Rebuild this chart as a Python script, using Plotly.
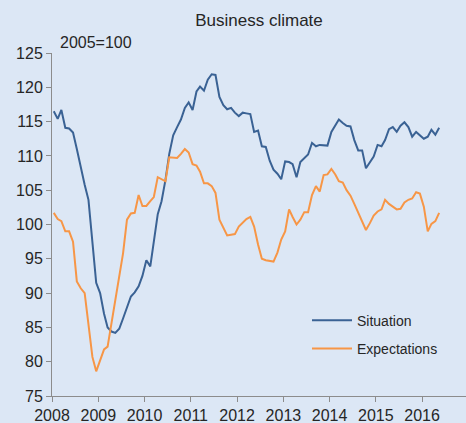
import plotly.graph_objects as go

# Monthly dates, Jan 2008 - May 2016
months = [f"{2008 + k // 12}-{k % 12 + 1:02d}-15" for k in range(101)]

situation = [
    116.5, 115.4, 116.7, 114.1, 114.0, 113.4, 111.0, 108.3, 105.8, 103.6, 97.0, 91.5,
    90.0, 87.0, 85.0, 84.4, 84.2, 84.8, 86.3, 88.0, 89.5, 90.1, 91.0, 92.5,
    94.8, 93.9, 97.5, 101.5, 103.4, 106.5, 110.3, 113.0, 114.2, 115.3, 117.0, 117.8,
    116.7, 119.4, 120.1, 119.5, 121.1, 121.9, 121.8, 118.6, 117.4, 116.8, 117.0, 116.3,
    115.8, 116.3, 116.2, 116.1, 113.5, 113.7, 111.4, 111.3, 109.3, 108.0, 107.4, 106.6,
    109.2, 109.1, 108.8, 106.9, 109.1, 109.7, 110.2, 111.9, 111.4, 111.6, 111.6, 111.5,
    113.5, 114.4, 115.3, 114.8, 114.4, 114.3, 112.3, 110.8, 110.8, 108.2, 109.0, 109.9,
    111.6, 111.4, 112.3, 113.9, 114.2, 113.5, 114.4, 114.9, 114.2, 112.8, 113.5, 113.0,
    112.5, 112.8, 113.8, 113.1, 114.1,
]

expectations = [
    101.7, 100.8, 100.5, 99.0, 99.0, 97.5, 91.7, 90.7, 90.0, 85.0, 80.7, 78.6,
    80.3, 81.8, 82.2, 85.5, 89.0, 92.5, 95.8, 100.7, 101.6, 101.7, 104.3, 102.7,
    102.7, 103.4, 104.0, 106.9, 106.6, 106.3, 109.8, 109.8, 109.7, 110.3, 111.0, 110.5,
    108.8, 108.6, 107.7, 106.0, 106.0, 105.6, 104.6, 100.7, 99.5, 98.4, 98.5, 98.6,
    99.7, 100.2, 100.8, 101.1, 99.7, 97.1, 95.0, 94.8, 94.7, 94.6, 95.9, 97.8,
    99.0, 102.2, 101.1, 100.0, 100.7, 101.8, 101.8, 104.3, 105.6, 104.8, 107.2, 107.3,
    108.1, 107.3, 106.3, 106.1, 105.0, 104.2, 103.0, 101.7, 100.3, 99.2, 100.2, 101.3,
    101.9, 102.2, 103.6, 103.0, 102.6, 102.2, 102.3, 103.2, 103.6, 103.8, 104.7, 104.5,
    102.6, 99.0, 100.1, 100.5, 101.7,
]

year_ticks = [f"{y}-01-01" for y in range(2008, 2017)]
year_labels = [str(y) for y in range(2008, 2017)]
y_ticks = list(range(75, 130, 5))

BG = "#dce7f5"
FONT = "Liberation Sans, Arial, sans-serif"
TXT = "#262626"

W, H = 466, 423
ML, MR, MT, MB = 52, 0, 53, 27
pw, ph = W - ML - MR, H - MT - MB

fig = go.Figure()
fig.add_trace(go.Scatter(x=months, y=situation, mode="lines", name="Situation",
                         legendgroup="a",
                         line=dict(color="#3a6294", width=2)))
fig.add_trace(go.Scatter(x=months, y=expectations, mode="lines", name="Expectations",
                         legendgroup="b",
                         line=dict(color="#f79646", width=2)))

fig.update_layout(
    width=W, height=H,
    margin=dict(l=ML, r=MR, t=MT, b=MB),
    paper_bgcolor=BG, plot_bgcolor=BG,
    font=dict(family=FONT, color=TXT, size=16),
    title=dict(text="Business climate", x=0.5, xref="paper", xanchor="center",
               y=1 - 20 / H, yref="container", yanchor="middle",
               font=dict(size=17, color=TXT, family=FONT)),
    showlegend=True,
    legend=dict(x=(307 - ML) / pw, y=0.266, xanchor="left", yanchor="top",
                bgcolor="rgba(0,0,0,0)", font=dict(size=14, color=TXT),
                traceorder="grouped", tracegroupgap=7, itemwidth=40),
    xaxis=dict(type="date", range=["2008-01-01", "2016-12-13"],
               tickvals=year_ticks, ticktext=year_labels,
               showgrid=False, zeroline=False,
               showline=True, linecolor="#8c8c8c", linewidth=1,
               ticks="outside", ticklen=5, tickcolor="#8c8c8c",
               tickfont=dict(size=16, color=TXT)),
    yaxis=dict(range=[75, 125], tickvals=y_ticks,
               showgrid=False, zeroline=False,
               showline=True, linecolor="#8c8c8c", linewidth=1,
               ticks="outside", ticklen=5, tickcolor="#8c8c8c",
               tickfont=dict(size=16, color=TXT)),
    annotations=[dict(text="2005=100", x=(58 - ML) / pw, y=(H - MB - 43) / ph,
                      xref="paper", yref="paper", xanchor="left", yanchor="middle",
                      showarrow=False, font=dict(size=16, color=TXT))],
)

fig.write_html("out.html",
               config={"displayModeBar": False},
               post_script="document.body.style.margin='0';document.body.style.overflow='hidden';")
